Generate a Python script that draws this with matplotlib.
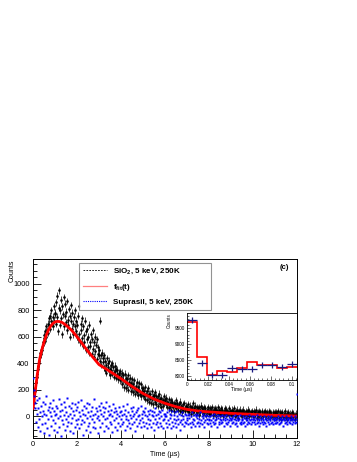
import numpy as np
import matplotlib
matplotlib.use("Agg")
import matplotlib.pyplot as plt
from matplotlib.lines import Line2D
from matplotlib.ticker import MultipleLocator, FuncFormatter

plt.rcParams['font.family'] = ['Liberation Sans', 'DejaVu Sans']
plt.rcParams['mathtext.fontset'] = 'custom'
plt.rcParams['mathtext.rm'] = 'Liberation Sans'
plt.rcParams['mathtext.bf'] = 'Liberation Sans:bold'
plt.rcParams['mathtext.it'] = 'Liberation Sans:italic'

########## data
bin_width = 0.025  # us

# SiO2, 5 keV, 250K  (one row per microsecond)
sio2_counts = [
    70, 110, 150, 190, 215, 260, 300, 320, 360, 380, 420, 400, 450, 480, 470, 520, 500, 560, 540, 590,
    610, 570, 640, 600, 680, 650, 700, 630, 740, 690, 760, 660, 720, 800, 700, 750, 680, 830, 720, 770,
    780, 860, 700, 910, 750, 640, 820, 950, 690, 800, 740, 880, 620, 830, 770, 900, 680, 760, 850, 710,
    790, 650, 870, 730, 690, 810, 600, 760, 720, 840, 660, 780, 700, 620, 750, 680, 800, 640, 720, 600,
    690, 580, 760, 620, 830, 560, 700, 650, 590, 740, 530, 680, 610, 560, 720, 500, 640, 580, 660, 520,
    600, 480, 690, 560, 530, 620, 470, 580, 510, 650, 450, 560, 600, 490, 540, 430, 580, 470, 520, 460,
    500, 720, 420, 460, 390, 480, 410, 440, 370, 460, 350, 420, 390, 330, 440, 370, 400, 340, 420, 360,
    310, 390, 350, 400, 320, 370, 330, 300, 380, 340, 290, 360, 320, 350, 280, 330, 310, 270, 340, 300,
    280, 330, 240, 310, 270, 220, 320, 260, 290, 210, 280, 240, 310, 200, 260, 230, 290, 190, 250, 220,
    280, 180, 240, 210, 270, 170, 230, 200, 260, 180, 220, 160, 250, 200, 170, 240, 150, 210, 190, 160,
    210, 150, 190, 130, 220, 170, 120, 190, 150, 210, 110, 170, 140, 170, 100, 190, 130, 150, 90, 160,
    140, 110, 180, 90, 150, 130, 80, 150, 120, 170, 90, 130, 70, 140, 110, 120, 80, 150, 100, 110,
    120, 90, 140, 70, 110, 100, 60, 130, 80, 100, 120, 50, 90, 110, 70, 100, 40, 90, 80, 120,
    60, 80, 100, 50, 70, 90, 40, 110, 60, 80, 30, 70, 90, 50, 100, 60, 40, 80, 70, 50,
    70, 40, 90, 50, 30, 80, 60, 20, 70, 50, 100, 30, 60, 40, 80, 20, 50, 70, 30, 60,
    40, 10, 70, 50, 30, 80, 40, 60, 20, 50, 70, 30, 40, 60, 10, 50, 30, 70, 40, 20,
    40, 60, 20, 50, 30, 70, 10, 40, 50, 20, 60, 30, 0, 50, 40, 70, 20, 30, 50, 10,
    40, 60, 20, 30, 50, 0, 40, 20, 60, 30, 10, 50, 40, 20, 30, 60, 10, 40, 30, 20,
    30, 50, 10, 40, 20, 60, 0, 30, 40, 10, 50, 20, 30, -10, 40, 20, 50, 10, 30, 40,
    0, 20, 50, 10, 30, 20, 40, -10, 30, 10, 50, 20, 0, 40, 20, 30, 10, 40, 20, 0,
    20, 40, 0, 30, 10, 50, -10, 20, 30, 10, 40, 0, 20, 30, -10, 20, 40, 10, 0, 30,
    20, 10, 40, -10, 20, 30, 0, 10, 40, 20, -10, 30, 10, 20, 0, 30, 10, -10, 20, 30,
    10, 30, -10, 20, 0, 40, -10, 10, 30, 0, 20, -20, 10, 30, 0, 20, -10, 10, 40, 0,
    10, -20, 20, 0, 30, 10, -10, 20, 0, 10, 30, -10, 0, 20, 10, -20, 10, 0, 20, 10,
]
sio2_err = 26

# Suprasil, 5 keV, 250K
suprasil_counts = [
    290, 200, 150, 100, 60, -40, 120, 20, -80, 60, 140, -20, 30, -110, 80, 0, -60, 110, 40, -130,
    20, 90, -50, 10, 150, -90, 50, -20, 70, -140, 30, 100, -70, 0, 60, -30, 120, -100, 40, 10,
    -50, 80, 20, -120, 60, -10, 130, -80, 40, 0, -150, 90, -30, 50, -60, 110, 10, -100, 70, -20,
    30, -70, 140, 0, -40, 80, -110, 20, 60, -50, 100, -10, -130, 40, 10, -80, 90, -30, 50, -60,
    70, -20, 110, -90, 30, 0, -60, 120, -30, 50, -140, 20, 80, -40, 10, -100, 60, -10, 100, -70,
    30, -50, 90, 0, -120, 40, -20, 70, -80, 10, 130, -40, 20, -90, 60, -10, 40, -130, 0, 80,
    -30, 50, -80, 20, 100, -50, 0, 70, -110, 30, -20, 60, -70, 110, -10, 40, -90, 10, 80, -40,
    20, -60, 50, -120, 0, 90, -30, 30, -80, 60, -10, 40, -100, 20, -50, 70, 0, -70, 30, -20,
    40, -60, 10, 80, -40, 20, -100, 50, -20, 0, -70, 90, -30, 30, -50, 10, -90, 60, -10, 40,
    -60, 0, 70, -40, 20, -110, 30, -20, 50, -70, 0, 60, -50, 10, -30, 80, -80, 20, -10, 40,
    -40, 30, -70, 10, 60, -50, 0, -90, 40, -20, 20, -60, 50, -30, -80, 10, 40, -50, 0, -100,
    30, -20, 60, -60, 10, -40, 20, -80, 40, -10, -50, 30, -70, 0, 50, -30, -90, 20, -20, 0,
    20, -50, 0, -80, 30, -30, 50, -60, -10, 20, -90, 10, -40, 40, -70, -20, 10, -50, 30, -30,
    -80, 0, 40, -60, -20, 20, -40, -100, 10, -30, 30, -60, 0, -20, -70, 20, -40, 10, -50, -10,
    -30, 10, -60, -10, 20, -50, -80, 0, -40, 30, -20, -60, 10, -30, -70, 0, 20, -50, -10, -40,
    10, -70, -20, 30, -50, -30, 0, -60, -10, 20, -40, -80, 0, -30, 10, -50, -20, -60, 0, -30,
    -20, -50, 0, -30, -70, 10, -40, -10, -60, 20, -30, -50, 0, -20, -80, -10, 10, -40, -60, -20,
    0, -30, -50, 10, -40, -20, -70, 0, -30, -10, -50, 10, -60, -20, -40, 0, -30, -70, -10, -20,
    -30, -10, -50, 0, -40, -20, -60, 10, -30, -50, -10, -70, 0, -30, -20, -50, 10, -40, -60, -20,
    -30, 0, -50, -10, -40, -70, -20, 0, -30, -60, -10, -40, 10, -50, -30, -20, -60, 0, -40, -20,
    -20, -40, 0, -60, -30, -10, -50, 10, -40, -20, -70, -30, 0, -50, -20, -40, -10, -60, -30, 0,
    -40, -20, -50, -10, -70, -30, 0, -40, -20, -60, -10, -30, -50, 0, -40, -20, -60, -30, -10, -50,
    -30, -10, -50, -20, -40, 0, -60, -30, -10, -50, -20, -40, 0, -30, -70, -20, -10, -50, -30, -40,
    0, -20, -60, -30, -10, -40, -50, -20, 0, -30, -60, -10, -40, -20, -30, -50, 0, -20, -40, 170,
]

# f_fit(t)
fit_t = [0, 0.05, 0.1, 0.2, 0.3, 0.4, 0.5, 0.6, 0.7, 0.8, 0.9, 1.0, 1.1, 1.2, 1.3, 1.4, 1.5,
         1.75, 2.0, 2.25, 2.5, 2.75, 3.0, 3.5, 4.0, 4.5, 5.0, 5.5, 6.0, 6.5, 7.0, 7.5, 8.0,
         9.0, 10.0, 11.0, 12.0]
fit_counts = [60, 120, 190, 320, 430, 500, 560, 610, 650, 680, 700, 712, 716, 715, 710, 700, 688,
              650, 600, 545, 490, 440, 390, 338, 284, 225, 172, 130, 98, 72, 52, 40, 33,
              22, 14, 7, 2]

# inset: first 0.1 us
inset_bin = 0.0095
inset_data = [9760, 8395, 8022, 8022, 8235, 8215, 8215, 8340, 8340, 8285, 8370]
inset_err = 100
inset_fit = [9690, 8606, 8022, 8156, 8124, 8235, 8425, 8340, 8340, 8255, 8285]

labels = [r"SiO$_{\mathbf{2}}$, 5 keV, 250K", r"f$_{\mathbf{fit}}$(t)", "Suprasil, 5 keV, 250K"]

########## figure
W, H = 357, 462
fig = plt.figure(figsize=(W / 100, H / 100), dpi=100)

def box(x0, x1, ytop, ybot):
    return [x0 / W, 1 - ybot / H, (x1 - x0) / W, (ybot - ytop) / H]

ax = fig.add_axes(box(33, 297, 259, 438))

t = (np.arange(len(sio2_counts)) + 0.5) * bin_width
ax.errorbar(t, sio2_counts, yerr=sio2_err, fmt='s', ms=0.8, color='black',
            elinewidth=0.5, capsize=0, zorder=2)
ax.plot(fit_t, fit_counts, color='red', lw=2.0, zorder=3)
ts = (np.arange(len(suprasil_counts)) + 0.5) * bin_width
ax.plot(ts, suprasil_counts, 's', ms=1.5, color='#0000ff', mec='none', zorder=4)

ax.set_xlim(0, 12)
ax.set_ylim(-164, 1187)
ax.xaxis.set_major_locator(MultipleLocator(2))
ax.xaxis.set_minor_locator(MultipleLocator(0.5))
ax.yaxis.set_major_locator(MultipleLocator(200))
ax.yaxis.set_minor_locator(MultipleLocator(50))
ax.tick_params(which='both', direction='in', top=False, right=False, width=0.6,
               labelsize=5.3, pad=2.5)
ax.tick_params(which='major', length=5.5)
ax.tick_params(which='minor', length=2.8)
for s in ax.spines.values():
    s.set_linewidth(0.7)

handles = [
    Line2D([], [], color='black', ls=(0, (2, 1.5)), lw=0.6),
    Line2D([], [], color='red', lw=0.9, alpha=0.5),
    Line2D([], [], color='#0000ff', ls=(0, (1, 1)), lw=0.8),
]
leg = ax.legend(handles, labels, loc='upper left', bbox_to_anchor=(0.174, 0.760, 0.50, 0.218),
                mode='expand', borderaxespad=0, fancybox=False, handlelength=3.0,
                handletextpad=0.8, labelspacing=0.7, borderpad=0.45,
                prop={'size': 5.8, 'weight': 'bold'})
leg.get_frame().set_edgecolor('#777777')
leg.get_frame().set_linewidth(0.8)

ax.text(0.97, 0.955, "(c)", transform=ax.transAxes, ha='right', va='center',
        fontsize=5.5, fontweight='bold')

fig.text(165 / W, 1 - 455 / H, "Time (µs)", ha='center', va='center', fontsize=5)
fig.text(12 / W, 1 - 259 / H, "Counts", rotation=90, ha='center', va='top', fontsize=5)

########## inset
axi = fig.add_axes(box(187, 296.5, 313, 380))
edges = np.arange(len(inset_fit) + 1) * inset_bin
centers = (np.arange(len(inset_data)) + 0.5) * inset_bin
axi.stairs(inset_fit, edges, baseline=None, color='red', lw=1.2, zorder=2)
axi.errorbar(centers, inset_data, xerr=inset_bin / 2, yerr=inset_err, fmt='none',
             ecolor='#1a1a80', elinewidth=0.9, capsize=0, zorder=3)
axi.set_xlim(0, 0.1045)
axi.set_ylim(7865, 9985)
axi.xaxis.set_major_locator(MultipleLocator(0.02))
axi.xaxis.set_minor_locator(MultipleLocator(0.004))
axi.yaxis.set_major_locator(MultipleLocator(500))
axi.yaxis.set_minor_locator(MultipleLocator(100))
axi.xaxis.set_major_formatter(FuncFormatter(lambda v, p: f"{v:g}"))
axi.tick_params(which='both', direction='in', top=False, right=False, width=0.4,
                labelsize=3.3, pad=1.5)
axi.tick_params(which='major', length=3)
axi.tick_params(which='minor', length=1.5)
for s in axi.spines.values():
    s.set_linewidth(0.6)

fig.text(169.5 / W, 1 - 313 / H, "Counts", rotation=90, ha='center', va='top', fontsize=3.3)
fig.text(241.7 / W, 1 - 389 / H, "Time (µs)", ha='center', va='center', fontsize=3.6)

fig.savefig("out.png", dpi=100)
